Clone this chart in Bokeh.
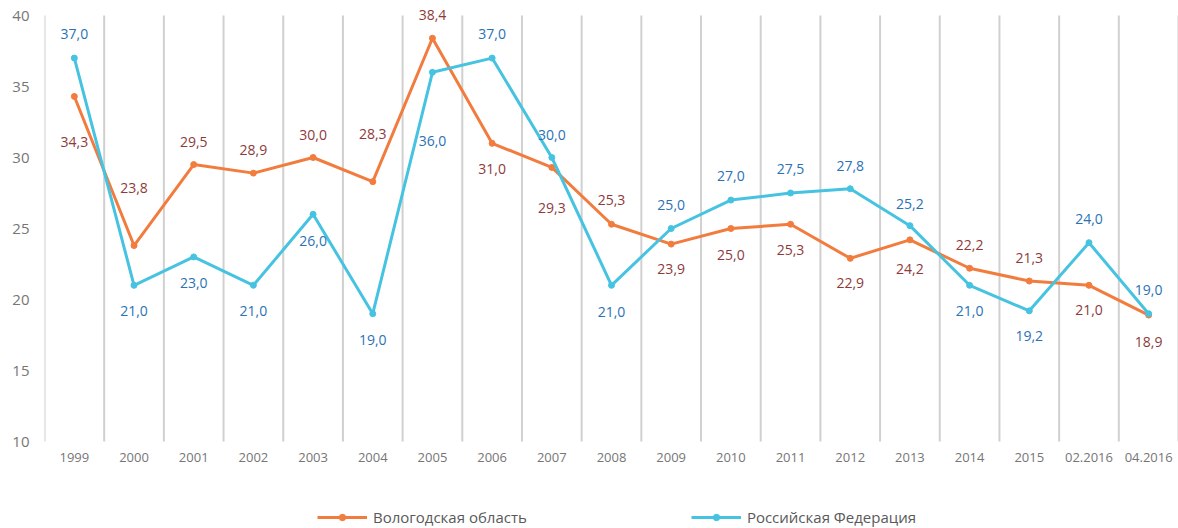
from bokeh.plotting import figure
from bokeh.models import (FactorRange, Range1d, FixedTicker, Legend, LegendItem,
                          ColumnDataSource)
from bokeh.core.properties import value
from bokeh.embed import file_html
from bokeh.resources import INLINE

categories = ["1999", "2000", "2001", "2002", "2003", "2004", "2005", "2006", "2007",
              "2008", "2009", "2010", "2011", "2012", "2013", "2014", "2015",
              "02.2016", "04.2016"]
vologda = [34.3, 23.8, 29.5, 28.9, 30.0, 28.3, 38.4, 31.0, 29.3, 25.3, 23.9, 25.0,
           25.3, 22.9, 24.2, 22.2, 21.3, 21.0, 18.9]
russia = [37.0, 21.0, 23.0, 21.0, 26.0, 19.0, 36.0, 37.0, 30.0, 21.0, 25.0, 27.0,
          27.5, 27.8, 25.2, 21.0, 19.2, 24.0, 19.0]
series_names = ["Вологодская область", "Российская Федерация"]
y_ticks = [10, 15, 20, 25, 30, 35, 40]
y_min, y_max = 10, 40

# label placement (screen px, + = below the point)
vologda_label_dy = [46, -58, -23, -23, -23, -48, -23, 26, 41, -24, 25, 26, 26, 25, 29,
                    -23, -23, 25, 27]
russia_label_dy = [-24, 26, 26, 26, 27, 26, 69, -24, -23, 27, -24, -24, -24, -23, -22,
                   26, 25, -24, -24]

ORANGE = "#F27C3E"
CYAN = "#46C3E1"
RED_TXT = "#8E3A3A"
BLUE_TXT = "#2A72B5"
GRID = "#D0D0D0"
AXIS_TXT = "#767676"
FONT = "Open Sans"

W, H = 1178, 528
PLOT_H = 426      # pixel height of the 10..40 band
TOP_PAD = 15      # room above 40 for labels
BOTTOM_PAD = H - TOP_PAD - PLOT_H   # room below 10 for category labels + legend


def fmt(v):
    return f"{v:.1f}".replace(".", ",")


src_v = ColumnDataSource(dict(x=categories, y=vologda, t=[fmt(v) for v in vologda],
                              dy=vologda_label_dy))
src_r = ColumnDataSource(dict(x=categories, y=russia, t=[fmt(v) for v in russia],
                              dy=russia_label_dy))

unit = (y_max - y_min) / PLOT_H
p = figure(width=W, height=H,
           x_range=FactorRange(*categories, range_padding=0),
           y_range=Range1d(y_min - BOTTOM_PAD * unit, y_max + TOP_PAD * unit),
           output_backend="svg", toolbar_location=None,
           min_border_left=44, min_border_right=0, min_border_top=0,
           min_border_bottom=0)
p.outline_line_color = None
p.background_fill_color = "white"
p.border_fill_color = "white"
p.xgrid.grid_line_color = None
p.ygrid.grid_line_color = None

# vertical separators at category boundaries (synthetic coords 0..N)
bounds = list(range(len(categories) + 1))
p.segment(x0=bounds, y0=[y_min] * len(bounds), x1=bounds, y1=[y_max] * len(bounds),
          line_color=GRID, line_width=2)

# axes
p.yaxis.ticker = FixedTicker(ticks=y_ticks)
p.yaxis.axis_line_color = None
p.yaxis.major_tick_line_color = None
p.yaxis.minor_tick_line_color = None
p.yaxis.major_tick_out = 0
p.yaxis.major_tick_in = 0
p.yaxis.major_label_standoff = 15
p.yaxis.major_label_text_font = FONT
p.yaxis.major_label_text_font_size = "15px"
p.yaxis.major_label_text_color = AXIS_TXT

p.xaxis.fixed_location = y_min
p.xaxis.axis_line_color = None
p.xaxis.major_tick_line_color = None
p.xaxis.major_tick_out = 0
p.xaxis.major_tick_in = 0
p.xaxis.major_label_standoff = 11
p.xaxis.major_label_text_font = FONT
p.xaxis.major_label_text_font_size = "13px"
p.xaxis.major_label_text_color = AXIS_TXT

# series
lv = p.line("x", "y", source=src_v, line_color=ORANGE, line_width=3)
sv = p.scatter("x", "y", source=src_v, size=6, fill_color=ORANGE, line_color=ORANGE)
lr = p.line("x", "y", source=src_r, line_color=CYAN, line_width=3)
sr = p.scatter("x", "y", source=src_r, size=6, fill_color=CYAN, line_color=CYAN)

p.text("x", "y", text="t", y_offset="dy", source=src_v, text_align="center",
       text_baseline="middle", text_font=value(FONT), text_font_size="14px",
       text_color=RED_TXT)
p.text("x", "y", text="t", y_offset="dy", source=src_r, text_align="center",
       text_baseline="middle", text_font=value(FONT), text_font_size="14px",
       text_color=BLUE_TXT)

legend = Legend(items=[LegendItem(label=series_names[0], renderers=[lv, sv]),
                       LegendItem(label=series_names[1], renderers=[lr, sr])],
                location=(273, 1), orientation="horizontal",
                glyph_width=50, glyph_height=16, label_standoff=6, spacing=164,
                padding=0, margin=0, border_line_alpha=0, background_fill_alpha=0,
                label_text_font=FONT, label_text_font_size="15px",
                label_text_color="#595959")
p.add_layout(legend)

open("out.html", "w").write(file_html(p, INLINE))
